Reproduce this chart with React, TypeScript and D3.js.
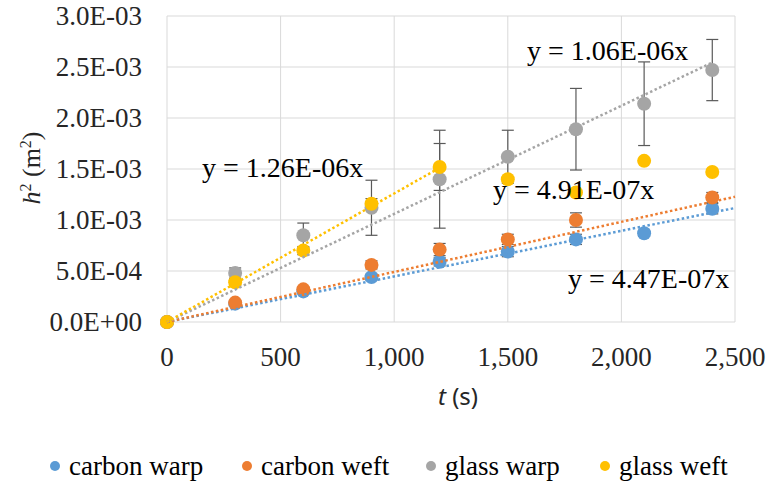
import * as React from "react";
import * as d3 from "d3";

// time (s)
const times = [0, 300, 600, 900, 1200, 1500, 1800, 2100, 2400];

// h^2 (m^2)
const carbonWarp = [0, 1.8e-4, 3.0e-4, 4.4e-4, 5.9e-4, 6.9e-4, 8.1e-4, 8.7e-4, 1.11e-3];
const carbonWeft = [0, 1.9e-4, 3.2e-4, 5.6e-4, 7.1e-4, 8.1e-4, 1.0e-3, null, 1.22e-3];
const glassWarp = [0, 4.8e-4, 8.5e-4, 1.12e-3, 1.4e-3, 1.62e-3, 1.89e-3, 2.14e-3, 2.47e-3];
const glassWeft = [0, 3.9e-4, 7.0e-4, 1.16e-3, 1.52e-3, 1.4e-3, 1.27e-3, 1.58e-3, 1.47e-3];

// error bars (+/-)
const carbonWarpErr = [0, 2e-5, 2e-5, 3e-5, 4e-5, 5e-5, 5e-5, 3e-5, 5e-5];
const carbonWeftErr = [0, 2e-5, 2e-5, 4e-5, 6e-5, 5e-5, 7e-5, 0, 5e-5];
const glassWarpErr = [0, 5e-5, 1.2e-4, 2.7e-4, 4.8e-4, 2.6e-4, 4.0e-4, 4.1e-4, 3.0e-4];
const glassWeftErr = [0, 3e-5, 4e-5, 5e-5, 2.3e-4, 0, 0, 0, 0];

// linear fits through origin
const seriesNames = ["carbon warp", "carbon weft", "glass warp", "glass weft"];
const slopes = [4.47e-7, 4.91e-7, 1.06e-6, 1.26e-6];
const trendEnds = [2500, 2500, 2400, 1200];
const equations = ["y = 4.47E-07x", "y = 4.91E-07x", "y = 1.06E-06x", "y = 1.26E-06x"];

const xTicks = [0, 500, 1000, 1500, 2000, 2500];
const yTicks = [0, 5e-4, 1e-3, 1.5e-3, 2e-3, 2.5e-3, 3e-3];

const colors = ["#5B9BD5", "#ED7D31", "#A5A5A5", "#FFC000"];

function sci(v: number) {
  if (v === 0) return "0.0E+00";
  const e = Math.floor(Math.log10(v));
  const m = v / Math.pow(10, e);
  const sign = e < 0 ? "-" : "+";
  return m.toFixed(1) + "E" + sign + String(Math.abs(e)).padStart(2, "0");
}

export default function App() {
  const ref = React.useRef<SVGSVGElement>(null);

  React.useEffect(() => {
    const svg = d3.select(ref.current);
    svg.selectAll("*").remove();

    const serif = "Liberation Serif, DejaVu Serif, serif";
    const x = d3.scaleLinear().domain([0, 2500]).range([167, 735]);
    const y = d3.scaleLinear().domain([0, 3e-3]).range([322, 16]);

    const values = [carbonWarp, carbonWeft, glassWarp, glassWeft];
    const errs = [carbonWarpErr, carbonWeftErr, glassWarpErr, glassWeftErr];

    // gridlines
    const grid = svg.append("g");
    grid.selectAll(".gy").data(yTicks).enter().append("line")
      .attr("x1", x(0)).attr("x2", x(2500))
      .attr("y1", d => y(d)).attr("y2", d => y(d))
      .attr("stroke", "#D9D9D9").attr("stroke-width", 1);
    grid.selectAll(".gx").data(xTicks).enter().append("line")
      .attr("x1", d => x(d)).attr("x2", d => x(d))
      .attr("y1", y(0)).attr("y2", y(3e-3))
      .attr("stroke", "#D9D9D9").attr("stroke-width", 1);

    // tick labels
    svg.append("g").selectAll("text").data(yTicks).enter().append("text")
      .attr("x", 142).attr("y", d => y(d)).attr("dy", "0.35em")
      .attr("text-anchor", "end")
      .attr("font-family", serif).attr("font-size", 27).attr("fill", "#262626")
      .text(d => sci(d));
    svg.append("g").selectAll("text").data(xTicks).enter().append("text")
      .attr("x", d => x(d)).attr("y", 366)
      .attr("text-anchor", "middle")
      .attr("font-family", serif).attr("font-size", 27).attr("fill", "#262626")
      .text(d => d3.format(",")(d));

    // axis titles
    const xt = svg.append("text").attr("x", 458).attr("y", 405).attr("text-anchor", "middle")
      .attr("font-family", "Noto Sans, Open Sans, sans-serif").attr("font-size", 24).attr("fill", "#262626");
    xt.append("tspan").attr("font-style", "italic").text("t");
    xt.append("tspan").text(" (s)");

    const yt = svg.append("text").attr("transform", "translate(40,168) rotate(-90)").attr("text-anchor", "middle")
      .attr("font-family", serif).attr("font-size", 26).attr("fill", "#262626");
    yt.append("tspan").attr("font-style", "italic").text("h");
    yt.append("tspan").attr("dy", -9).attr("font-size", 16).text("2");
    yt.append("tspan").attr("dy", 9).text(" (m");
    yt.append("tspan").attr("dy", -9).attr("font-size", 16).text("2");
    yt.append("tspan").attr("dy", 9).text(")");

    // error bars
    values.forEach((vals, s) => {
      const g = svg.append("g").attr("stroke", "#595959").attr("stroke-width", 1.2);
      times.forEach((t, i) => {
        const v = vals[i];
        const e = errs[s][i];
        if (v == null || !e) return;
        const cx = x(t);
        g.append("line").attr("x1", cx).attr("x2", cx).attr("y1", y(v - e)).attr("y2", y(v + e));
        g.append("line").attr("x1", cx - 6).attr("x2", cx + 6).attr("y1", y(v - e)).attr("y2", y(v - e));
        g.append("line").attr("x1", cx - 6).attr("x2", cx + 6).attr("y1", y(v + e)).attr("y2", y(v + e));
      });
    });

    // markers
    values.forEach((vals, s) => {
      svg.append("g").selectAll("circle")
        .data(times.map((t, i) => ({t, v: vals[i]})).filter(d => d.v != null))
        .enter().append("circle")
        .attr("cx", d => x(d.t)).attr("cy", d => y(d.v as number))
        .attr("r", 7).attr("fill", colors[s]);
    });

    // trendlines
    slopes.forEach((k, s) => {
      svg.append("line")
        .attr("x1", x(0)).attr("y1", y(0))
        .attr("x2", x(trendEnds[s])).attr("y2", y(k * trendEnds[s]))
        .attr("stroke", colors[s]).attr("stroke-width", 2.5)
        .attr("stroke-dasharray", "2.5 2.5");
    });

    // equation labels
    const eqPos = [[568, 288], [493, 199], [527, 60], [202, 177]];
    equations.forEach((eq, s) => {
      svg.append("text").attr("x", eqPos[s][0]).attr("y", eqPos[s][1])
        .attr("font-family", serif).attr("font-size", 28).attr("fill", "#000")
        .text(eq);
    });

    // legend
    const legendX = [55, 247, 431, 605];
    const lg = svg.append("g");
    seriesNames.forEach((name, s) => {
      lg.append("circle").attr("cx", legendX[s]).attr("cy", 466).attr("r", 5).attr("fill", colors[s]);
      lg.append("text").attr("x", legendX[s] + 14).attr("y", 466).attr("dy", "0.32em")
        .attr("font-family", serif).attr("font-size", 27).attr("fill", "#000")
        .text(name);
    });
  }, []);

  return (
    <svg ref={ref} width={772} height={484}
      style={{position: "absolute", left: 0, top: 0, background: "#fff"}}/>
  );
}
